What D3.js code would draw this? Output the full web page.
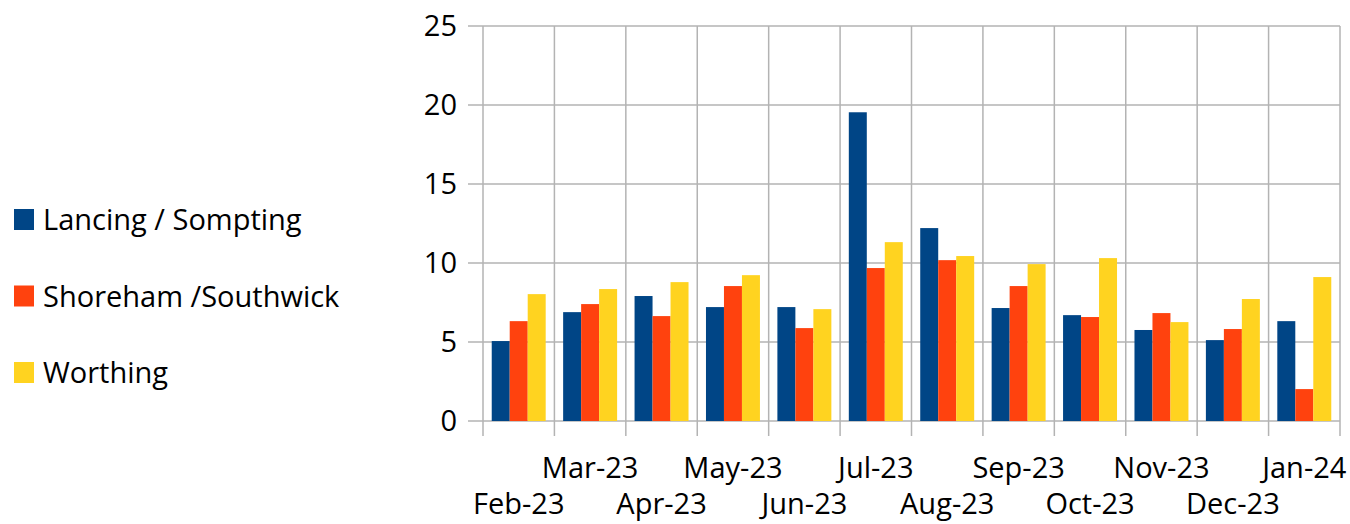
<!DOCTYPE html>
<html lang="en">
<head>
<meta charset="UTF-8">
<title>Monthly figures by area</title>
<script src="https://cdn.jsdelivr.net/npm/d3@7"></script>
<style>
	body { margin: 0; background: #fff; }
	text { font-family: "Open Sans", sans-serif; fill: #000; }
</style>
</head>
<body>
<svg width="1350" height="524"></svg>
<script>
	// data
	const months = ["Feb-23","Mar-23","Apr-23","May-23","Jun-23","Jul-23","Aug-23","Sep-23","Oct-23","Nov-23","Dec-23","Jan-24"];
	const seriesNames = ["Lancing / Sompting", "Shoreham /Southwick", "Worthing"];
	const lancing  = [5.06, 6.89, 7.91, 7.21, 7.21, 19.54, 12.21, 7.15, 6.70, 5.76, 5.12, 6.32];
	const shoreham = [6.32, 7.40, 6.64, 8.54, 5.88, 9.68, 10.18, 8.54, 6.58, 6.83, 5.82, 2.02];
	const worthing = [8.03, 8.35, 8.79, 9.23, 7.08, 11.32, 10.44, 9.93, 10.31, 6.26, 7.72, 9.11];
	const yTicks = [0, 5, 10, 15, 20, 25];
	const colors = ["#004586", "#ff420e", "#ffd320"];

	const values = [lancing, shoreham, worthing];
	const svg = d3.select("svg");
	const margin = { left: 483, right: 10, top: 26, bottom: 103 };
	const width = 1350 - margin.left - margin.right;
	const height = 524 - margin.top - margin.bottom;

	const g = svg.append("g").attr("transform", `translate(${margin.left},${margin.top})`);

	const x0 = d3.scaleBand().domain(months).range([0, width]).padding(0);
	const x1 = d3.scaleBand().domain(d3.range(3)).range([0, x0.bandwidth()]).paddingInner(0).paddingOuter(0.485);
	const y = d3.scaleLinear().domain([0, 25]).range([height, 0]);

	// horizontal grid + left ticks
	g.selectAll(".hgrid").data(yTicks).enter().append("line")
		.attr("x1", -15).attr("x2", width)
		.attr("y1", d => y(d)).attr("y2", d => y(d))
		.attr("stroke", "#b3b3b3").attr("stroke-width", 1.5);

	// vertical grid at category boundaries, extending below axis
	const bounds = months.map(m => x0(m)).concat([width]);
	g.selectAll(".vgrid").data(bounds).enter().append("line")
		.attr("x1", d => d).attr("x2", d => d)
		.attr("y1", 0).attr("y2", height + 15)
		.attr("stroke", "#b3b3b3").attr("stroke-width", 1.5);

	// bars
	const groups = g.selectAll(".grp").data(months).enter().append("g")
		.attr("transform", d => `translate(${x0(d)},0)`);
	groups.selectAll("rect").data((m, i) => values.map((s, k) => ({ k: k, v: s[i] })))
		.enter().append("rect")
		.attr("x", d => x1(d.k))
		.attr("width", x1.bandwidth())
		.attr("y", d => y(d.v))
		.attr("height", d => y(0) - y(d.v))
		.attr("fill", d => colors[d.k]);

	// y labels
	g.selectAll(".ylab").data(yTicks).enter().append("text")
		.attr("x", -26).attr("y", d => y(d) + 10)
		.attr("text-anchor", "end")
		.style("font-size", "29px")
		.text(d => d);

	// x labels, staggered
	g.selectAll(".xlab").data(months).enter().append("text")
		.attr("x", d => x0(d) + x0.bandwidth() / 2)
		.attr("y", (d, i) => i % 2 === 0 ? height + 93 : height + 57)
		.attr("text-anchor", "middle")
		.style("font-size", "29px")
		.text(d => d);

	// legend
	const legend = svg.append("g").selectAll("g").data(seriesNames).enter().append("g")
		.attr("transform", (d, i) => `translate(14,${230 + i * 76.5})`);
	legend.append("rect")
		.attr("x", 0).attr("y", -21)
		.attr("width", 20).attr("height", 21)
		.attr("fill", (d, i) => colors[i]);
	legend.append("text")
		.attr("x", 29).attr("y", 0)
		.style("font-size", "29px")
		.text(d => d);
</script>
</body>
</html>
